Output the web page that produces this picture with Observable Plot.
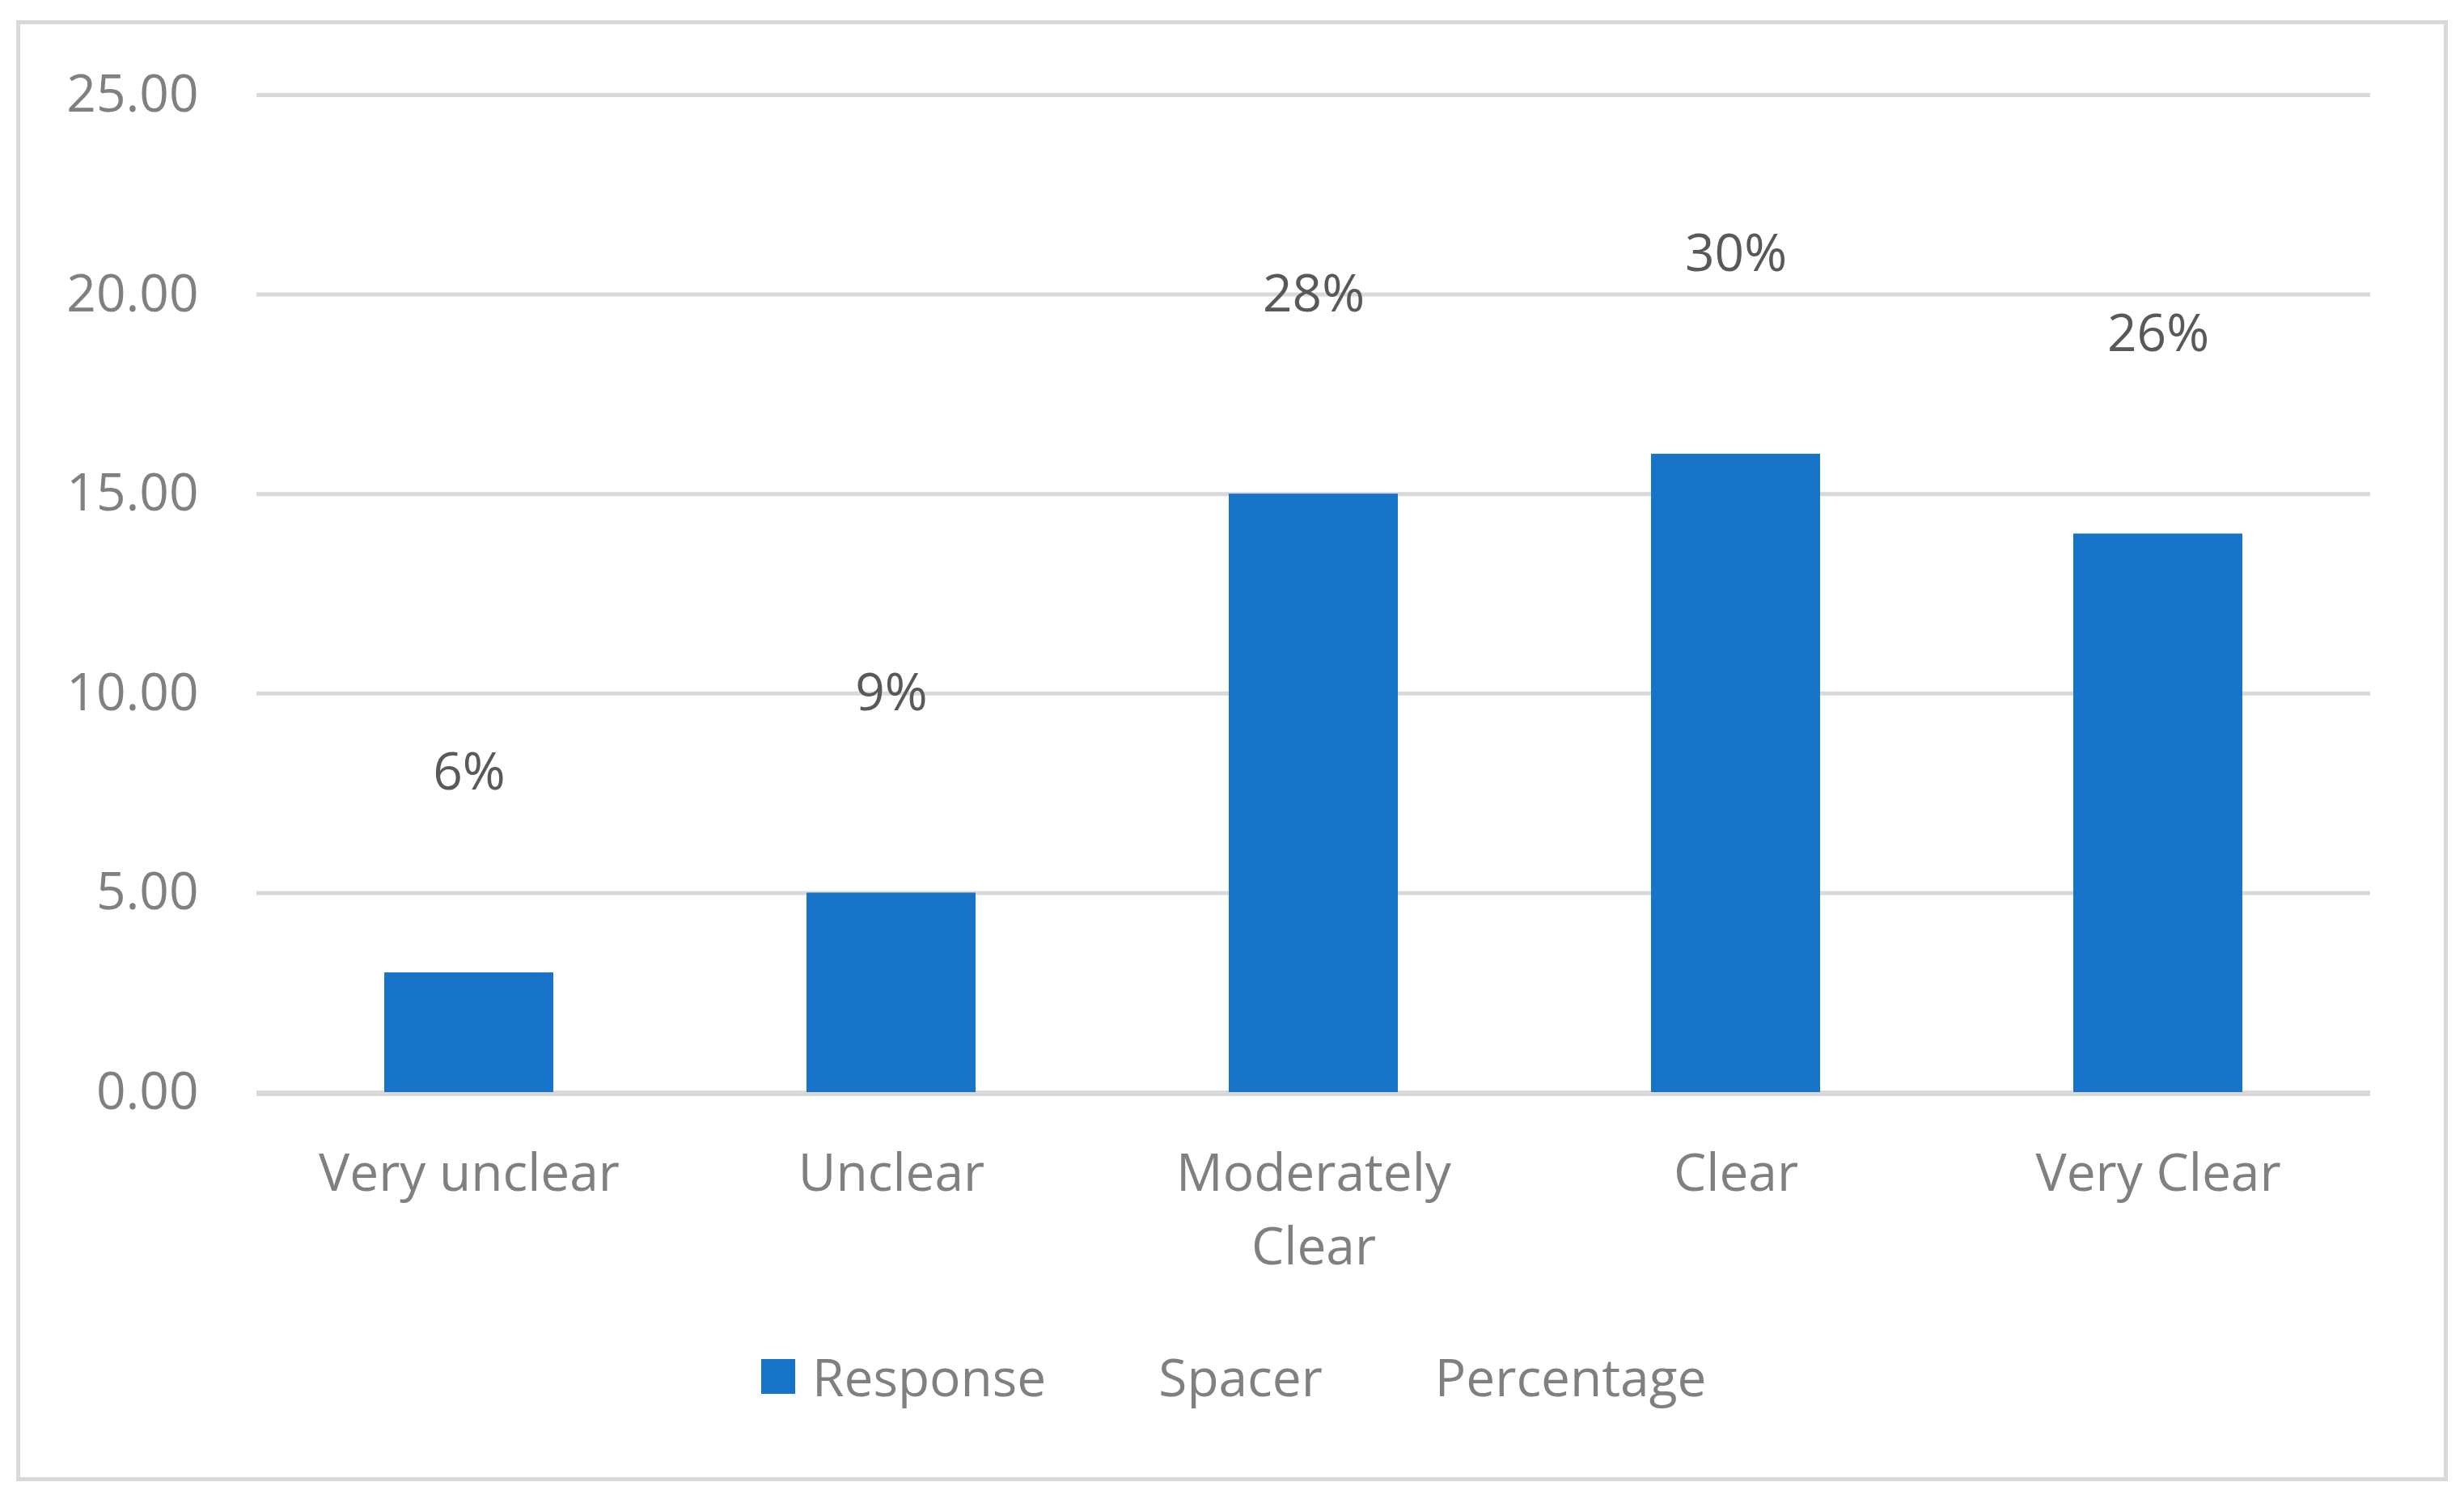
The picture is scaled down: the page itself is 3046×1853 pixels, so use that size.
<!DOCTYPE html>
<html>
<head>
<meta charset="utf-8">
<script src="https://cdn.jsdelivr.net/npm/d3@7"></script>
<script src="https://cdn.jsdelivr.net/npm/@observablehq/plot@0.6"></script>
<style>
  html, body { margin: 0; padding: 0; background: #ffffff; }
  body { width: 3046px; height: 1853px; position: relative; overflow: hidden; font-family: "Open Sans", sans-serif; }
  #frame { position: absolute; left: 20px; top: 25px; width: 3006px; height: 1806px; border: 5px solid #d9d9d9; box-sizing: border-box; }
  #chart { position: absolute; left: 0; top: 0; }
  #legend { position: absolute; left: 941px; top: 1658px; display: flex; align-items: center; gap: 76px; font-size: 64px; color: #808080; }
  #legend .item { display: flex; align-items: center; }
  #legend .sw { width: 42px; height: 43px; margin-right: 21px; }
</style>
</head>
<body>
<div id="frame"></div>
<div id="chart"></div>
<div id="legend"></div>
<script>
const categories = ["Very unclear", "Unclear", "Moderately Clear", "Clear", "Very Clear"];
const categoryLabels = ["Very unclear", "Unclear", "Moderately\nClear", "Clear", "Very Clear"];
const responses = [3, 5, 15, 16, 14];
const spacer = [5, 5, 5, 5, 5];
const percentages = ["6%", "9%", "28%", "30%", "26%"];
const yTicks = [0, 5, 10, 15, 20, 25];
const seriesNames = ["Response", "Spacer", "Percentage"];
const seriesColors = ["#1874c8", "none", "none"];

const data = categories.map((c, i) => ({
  category: c,
  response: responses[i],
  labelY: responses[i] + spacer[i],
  pct: percentages[i]
}));
const labelOf = new Map(categories.map((c, i) => [c, categoryLabels[i]]));

const chart = Plot.plot({
  width: 3046,
  height: 1620,
  marginLeft: 317,
  marginRight: 116,
  marginTop: 117,
  marginBottom: 270,
  style: { fontFamily: "Open Sans", fontSize: "64px", color: "#808080", background: "transparent", overflow: "visible" },
  x: { domain: categories, paddingInner: 0.6, paddingOuter: 0.3, label: null },
  y: { domain: [0, 25], label: null },
  marks: [
    Plot.ruleY(yTicks, { stroke: "#d9d9d9", strokeWidth: 5 }),
    Plot.barY(data, { x: "category", y: "response", fill: seriesColors[0] }),
    Plot.ruleY([0], { stroke: "#d9d9d9", strokeWidth: 5, dy: 2 }),
    Plot.text(data, { x: "category", y: "labelY", text: "pct", fill: "#595959", fontSize: 64 }),
    Plot.axisY({ ticks: yTicks, tickSize: 0, tickPadding: 72, tickFormat: d => d.toFixed(2), fontSize: 64, label: null }),
    Plot.axisX({ tickSize: 0, tickPadding: 57, tickFormat: d => labelOf.get(d), fontSize: 64, lineHeight: 1.42, label: null })
  ]
});
document.getElementById("chart").appendChild(chart);

const legend = document.getElementById("legend");
seriesNames.forEach((name, i) => {
  const item = document.createElement("div");
  item.className = "item";
  const sw = document.createElement("span");
  sw.className = "sw";
  sw.style.background = seriesColors[i] === "none" ? "transparent" : seriesColors[i];
  const t = document.createElement("span");
  t.textContent = name;
  item.appendChild(sw);
  item.appendChild(t);
  legend.appendChild(item);
});
</script>
</body>
</html>
